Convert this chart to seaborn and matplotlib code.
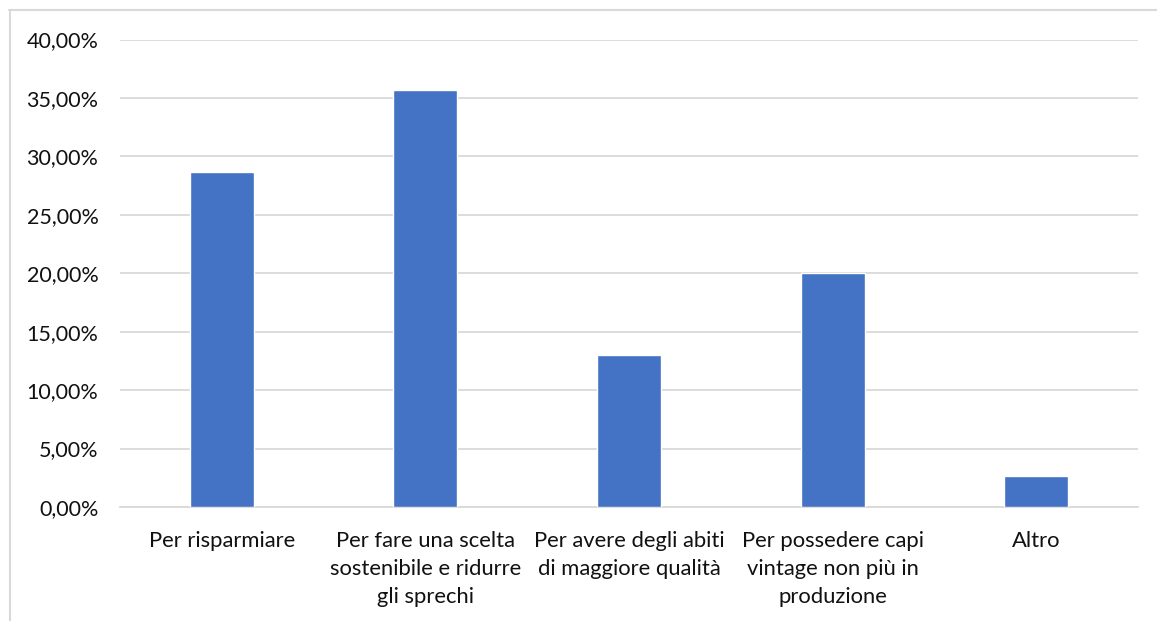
import matplotlib
matplotlib.use("Agg")
import matplotlib.pyplot as plt
from matplotlib.lines import Line2D
from matplotlib.ticker import FuncFormatter, MultipleLocator
import seaborn as sns
import pandas as pd

categories = [
    "Per risparmiare",
    "Per fare una scelta\nsostenibile e ridurre\ngli sprechi",
    "Per avere degli abiti\ndi maggiore qualità",
    "Per possedere capi\nvintage non più in\nproduzione",
    "Altro",
]
values = [28.67, 35.67, 13.0, 20.0, 2.67]

sns.set_theme(style="white")
plt.rcParams["font.family"] = ["Lato", "DejaVu Sans"]

W, H = 1157, 621
fig = plt.figure(figsize=(W / 100, H / 100), dpi=100)
fig.patch.set_facecolor("white")

# chart frame (top and left edges)
grey = "#d9d9d9"
fig.add_artist(Line2D([9 / W, 1.0], [1 - 9.5 / H, 1 - 9.5 / H], color=grey, lw=1.5))
fig.add_artist(Line2D([9.5 / W, 9.5 / W], [0.0, 1 - 9.5 / H], color=grey, lw=1.5))

ax = fig.add_axes([120 / W, (H - 507) / H, (1138 - 120) / W, (507 - 39.5) / H])

df = pd.DataFrame({"cat": categories, "val": values})
sns.barplot(data=df, x="cat", y="val", color="#4472C4", width=0.315,
            saturation=1, ax=ax, zorder=3)

ax.set_xlim(-0.5, len(categories) - 0.5)
ax.set_ylim(0, 40)
ax.yaxis.set_major_locator(MultipleLocator(5))
ax.yaxis.set_major_formatter(FuncFormatter(lambda v, _: f"{v:.2f}%".replace(".", ",")))
ax.grid(axis="y", color=grey, lw=1.3, zorder=0)
ax.set_axisbelow(True)
for s in ["top", "right", "left"]:
    ax.spines[s].set_visible(False)
ax.spines["bottom"].set_color(grey)
ax.spines["bottom"].set_linewidth(1.3)
ax.set_xlabel("")
ax.set_ylabel("")
ax.tick_params(axis="y", length=0, pad=15.5, labelsize=15.5, labelcolor="#111111")
ax.tick_params(axis="x", length=0, pad=17, labelsize=15.8, labelcolor="#111111")
for t in ax.get_xticklabels():
    t.set_linespacing(1.5)
    t.set_ha("center")

fig.savefig("out.png", dpi=100, facecolor="white")
